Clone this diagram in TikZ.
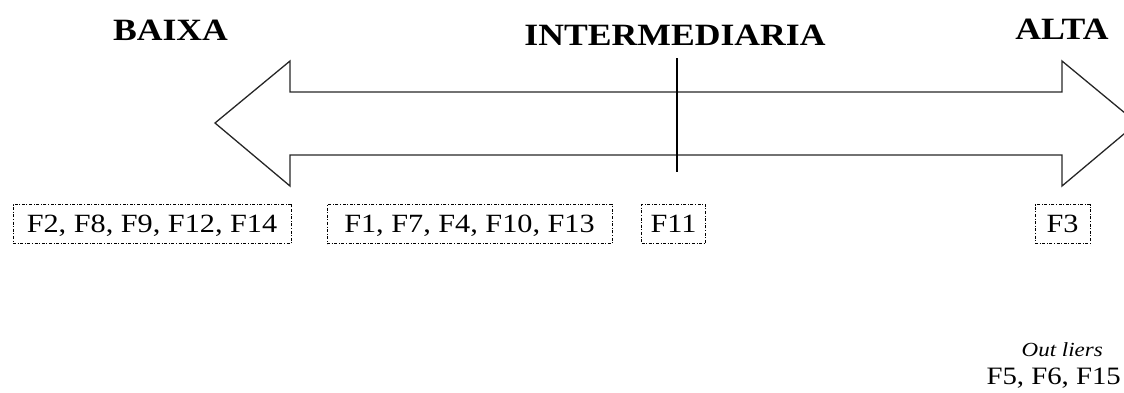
\documentclass[tikz,border=0pt]{standalone}
\usepackage{fontspec}
\usepackage{graphicx}
\setmainfont{Liberation Serif}
\newcommand\stx[1]{\scalebox{1.15}[1]{#1}}
\tikzset{
  hdr/.style={font=\fontsize{31}{34}\selectfont\bfseries, inner sep=0pt, anchor=base},
  fbox/.style={draw, line width=0.9pt, dash pattern=on 3pt off 1.6pt on 1pt off 1.6pt,
     font=\fontsize{26.3}{30}\selectfont, inner sep=0pt, text height=17.4pt, text depth=0pt,
     minimum height=39pt},
  arrowshape/.style={draw=black!85, line width=1.3pt, line join=miter},
  outtxt/.style={inner sep=0pt, anchor=base east}
}
\begin{document}
\begin{tikzpicture}[x=1pt,y=-1pt]
\useasboundingbox (0,0) rectangle (1124,392);
\clip (0,0) rectangle (1124,392);
% double arrow
\draw[arrowshape] (215,123) -- (290,61) -- (290,92) -- (1062,92) -- (1062,61)
  -- (1137,123) -- (1062,186) -- (1062,155) -- (290,155) -- (290,186) -- cycle;
% middle tick
\coordinate (mtop) at (677,58);
\coordinate (mbot) at (677,172);
\draw[line width=2.6pt] (mtop) -- (mbot);
% headers
\node[hdr] (baixa) at (170.5,40) {\stx{BAIXA}};
\node[hdr] (inter) at (675,45) {\stx{INTERMEDIARIA}};
\node[hdr] (alta) at (1062,39) {\stx{ALTA}};
% boxes
\node[fbox, minimum width=278pt] (b1) at (152,224) {\stx{F2, F8, F9, F12, F14}};
\node[fbox, minimum width=285pt] (b2) at (469.5,224) {\stx{F1, F7, F4, F10, F13}};
\node[fbox, minimum width=64pt] (b3) at (673.5,224) {\stx{F11}};
\node[fbox, minimum width=55pt] (b4) at (1062.5,224) {\stx{F3}};
% outliers
\node[outtxt, font=\fontsize{20}{24}\selectfont\itshape] (outl) at (1103,356) {\stx{Out liers}};
\node[outtxt, font=\fontsize{25}{28}\selectfont] (outf) at (1121,384) {\stx{F5, F6, F15}};
\end{tikzpicture}
\end{document}
